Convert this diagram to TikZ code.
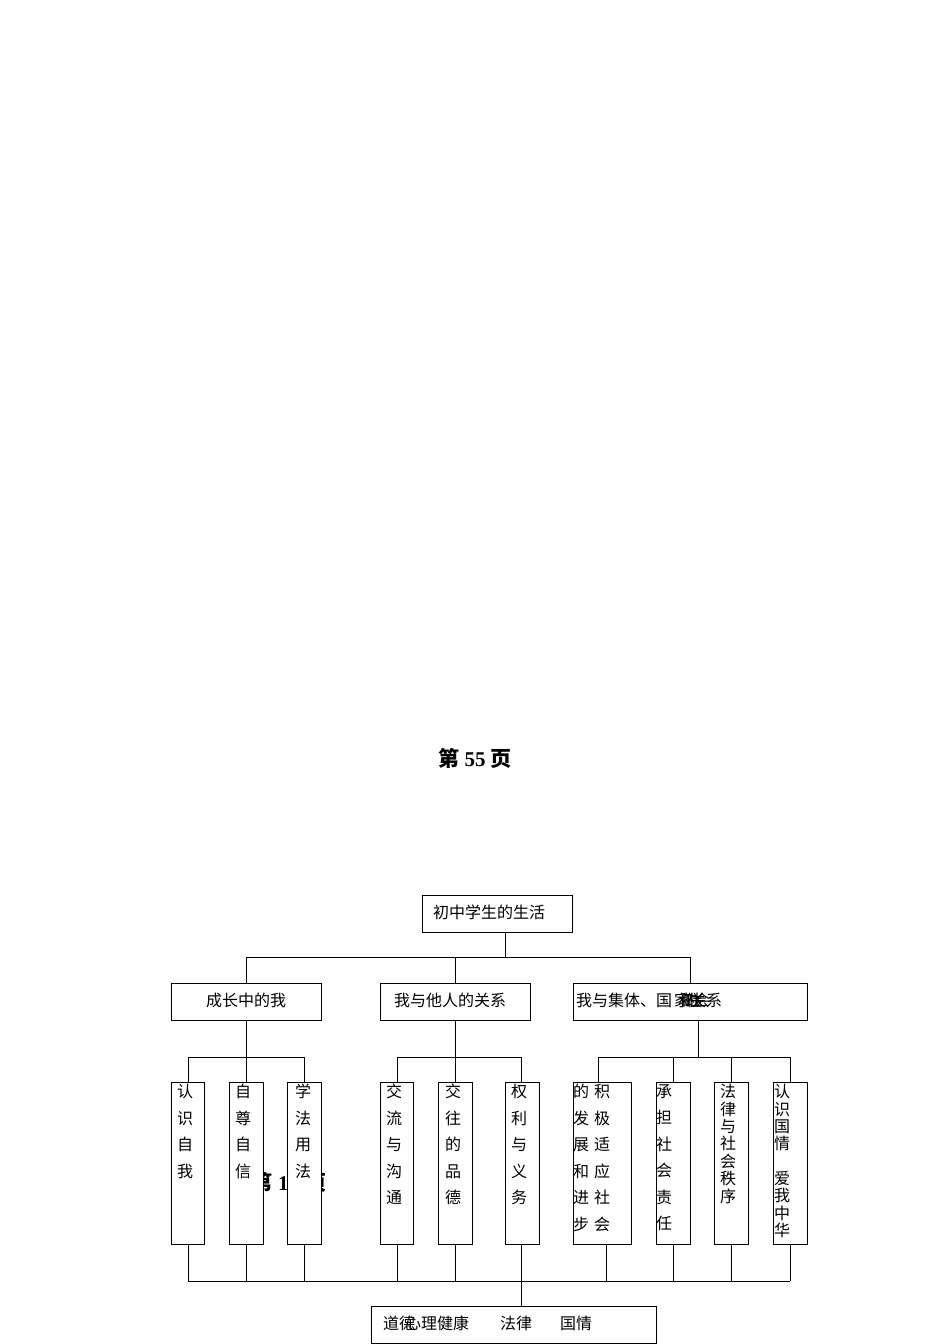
\documentclass[tikz,border=0pt]{standalone}
\usepackage{fontspec}
\setmainfont{Liberation Serif}
\newfontfamily\cjk{Noto Sans CJK SC}
\newfontfamily\cjkb{Noto Sans CJK SC Bold}
\begin{document}
\begin{tikzpicture}[x=1pt,y=-1pt]
\tikzset{
  box/.style={draw=black, fill=white, line width=0.8pt, inner sep=0pt, rectangle},
  wire/.style={draw=black, line width=0.8pt},
  lbl/.style={font=\cjk\fontsize{16}{20}\selectfont, inner sep=0pt},
  vlbl/.style={font=\cjk\fontsize{16}{26.5}\selectfont, inner sep=0pt, align=center, anchor=north},
  vtight/.style={font=\cjk\fontsize{16}{17.4}\selectfont, inner sep=0pt, align=center, anchor=north},
  pg/.style={font=\fontsize{21}{24}\selectfont\bfseries, inner sep=0pt},
}
\useasboundingbox (0,0) rectangle (950,1344);
\fill[white] (0,0) rectangle (950,1344);

% page markers
\node[pg] (p55) at (475,758) {{\cjkb 第} 55 {\cjkb 页}};
\node[pg, anchor=west] (p1) at (251,1182) {{\cjkb 第}\hspace{6pt}1\hspace{17pt}{\cjkb 页}};

% ---------- boxes ----------
\node[box, minimum width=150pt, minimum height=37pt] (top) at (497,913.5) {};
\node[lbl, anchor=west] (ttop) at (433,912) {初中学生的生活};

\node[box, minimum width=150pt, minimum height=37pt] (b1) at (246,1001.5) {};
\node[box, minimum width=150pt, minimum height=37pt] (b2) at (455,1001.5) {};
\node[box, minimum width=234pt, minimum height=37pt] (b3) at (690,1001.5) {};
\node[lbl] (tb1) at (246,1000) {成长中的我};
\node[lbl] (tb2) at (450,1000) {我与他人的关系};
\node[lbl, anchor=west] (tb3a) at (576,1000) {我与集体、国};
\node[lbl, anchor=west] (tb3b) at (674,1000) {家\hspace{-8pt}的\hspace{-8pt}关};
\node[lbl, anchor=west] (tb3c) at (678,1000) {和\hspace{-8pt}社\hspace{-8pt}会};
\node[lbl, anchor=west] (tb3d) at (706,1000) {系};

% leaves
\node[box, minimum width=33pt, minimum height=162pt] (l11) at (187.5,1163) {};
\node[box, minimum width=34pt, minimum height=162pt] (l12) at (246,1163) {};
\node[box, minimum width=34pt, minimum height=162pt] (l13) at (304,1163) {};
\node[box, minimum width=33pt, minimum height=162pt] (l21) at (396.5,1163) {};
\node[box, minimum width=34pt, minimum height=162pt] (l22) at (455,1163) {};
\node[box, minimum width=34pt, minimum height=162pt] (l23) at (522,1163) {};
\node[box, minimum width=58pt, minimum height=162pt] (l31) at (602,1163) {};
\node[box, minimum width=34pt, minimum height=162pt] (l32) at (673,1163) {};
\node[box, minimum width=34pt, minimum height=162pt] (l33) at (731,1163) {};
\node[box, minimum width=34pt, minimum height=162pt] (l34) at (790,1163) {};

\node[vlbl] (t11) at (185,1084) {认\\识\\自\\我};
\node[vlbl] (t12) at (243,1084) {自\\尊\\自\\信};
\node[vlbl] (t13) at (303,1084) {学\\法\\用\\法};
\node[vlbl] (t21) at (394,1084) {交\\流\\与\\沟\\通};
\node[vlbl] (t22) at (453,1084) {交\\往\\的\\品\\德};
\node[vlbl] (t23) at (519,1084) {权\\利\\与\\义\\务};
\node[vlbl] (t31a) at (581,1084) {的\\发\\展\\和\\进\\步};
\node[vlbl] (t31b) at (602,1084) {积\\极\\适\\应\\社\\会};
\node[vlbl] (t32) at (664,1084) {承\\担\\社\\会\\责\\任};
\node[vtight] (t33) at (728,1084) {法\\律\\与\\社\\会\\秩\\序};
\node[vtight] (t34) at (782,1084) {认\\识\\国\\情\\[17.2pt]爱\\我\\中\\华};

% bottom box
\node[box, minimum width=285pt, minimum height=37pt] (bot) at (513.5,1324.5) {};
\node[lbl, anchor=west] (tbot1) at (383,1323) {道德};
\node[lbl, anchor=west] (tbot2) at (405,1323) {心理健康};
\node[lbl, anchor=west] (tbot3) at (500,1323) {法律};
\node[lbl, anchor=west] (tbot4) at (560,1323) {国情};

% ---------- connectors ----------
\coordinate (j0) at (505,957);
\coordinate (h1L) at (246,957);
\coordinate (h1M) at (455,957);
\coordinate (h1R) at (690,957);
\draw[wire] (top.south -| j0) -- (j0);
\draw[wire] (h1L) -- (h1R);
\draw[wire] (h1L) -- (b1.north);
\draw[wire] (h1M) -- (b2.north);
\draw[wire] (h1R) -- (b3.north);

% level 3 junctions
\coordinate (g1) at (246,1057);
\coordinate (g2) at (455,1057);
\coordinate (g3) at (698,1057);
\draw[wire] (b1.south) -- (g1);
\draw[wire] (b2.south) -- (g2);
\draw[wire] (b3.south -| g3) -- (g3);

\coordinate (g1L) at (188,1057);
\coordinate (g1R) at (304,1057);
\draw[wire] (g1L) -- (g1R);
\draw[wire] (g1L) -- (l11.north -| g1L);
\draw[wire] (g1) -- (l12.north);
\draw[wire] (g1R) -- (l13.north);

\coordinate (g2L) at (397,1057);
\coordinate (g2R) at (521,1057);
\draw[wire] (g2L) -- (g2R);
\draw[wire] (g2L) -- (l21.north -| g2L);
\draw[wire] (g2) -- (l22.north);
\draw[wire] (g2R) -- (l23.north -| g2R);

\coordinate (g3L) at (598,1057);
\coordinate (g3a) at (673,1057);
\coordinate (g3b) at (731,1057);
\coordinate (g3R) at (790,1057);
\draw[wire] (g3L) -- (g3R);
\draw[wire] (g3L) -- (l31.north -| g3L);
\draw[wire] (g3a) -- (l32.north);
\draw[wire] (g3b) -- (l33.north);
\draw[wire] (g3R) -- (l34.north);

% bottom bus
\coordinate (kL) at (188,1281);
\coordinate (kR) at (790,1281);
\coordinate (kM) at (521,1281);
\draw[wire] (kL) -- (kR);
\draw[wire] (l11.south -| kL) -- (kL);
\draw[wire] (l12.south) -- (l12.south |- kL);
\draw[wire] (l13.south) -- (l13.south |- kL);
\draw[wire] (l21.south -| g2L) -- (g2L |- kL);
\draw[wire] (l22.south) -- (l22.south |- kL);
\draw[wire] (l23.south -| kM) -- (kM);
\coordinate (k31) at (606,1281);
\draw[wire] (l31.south -| k31) -- (k31);
\draw[wire] (l32.south) -- (l32.south |- kL);
\draw[wire] (l33.south) -- (l33.south |- kL);
\draw[wire] (l34.south) -- (l34.south |- kL);
\draw[wire] (kM) -- (bot.north -| kM);
\end{tikzpicture}
\end{document}
